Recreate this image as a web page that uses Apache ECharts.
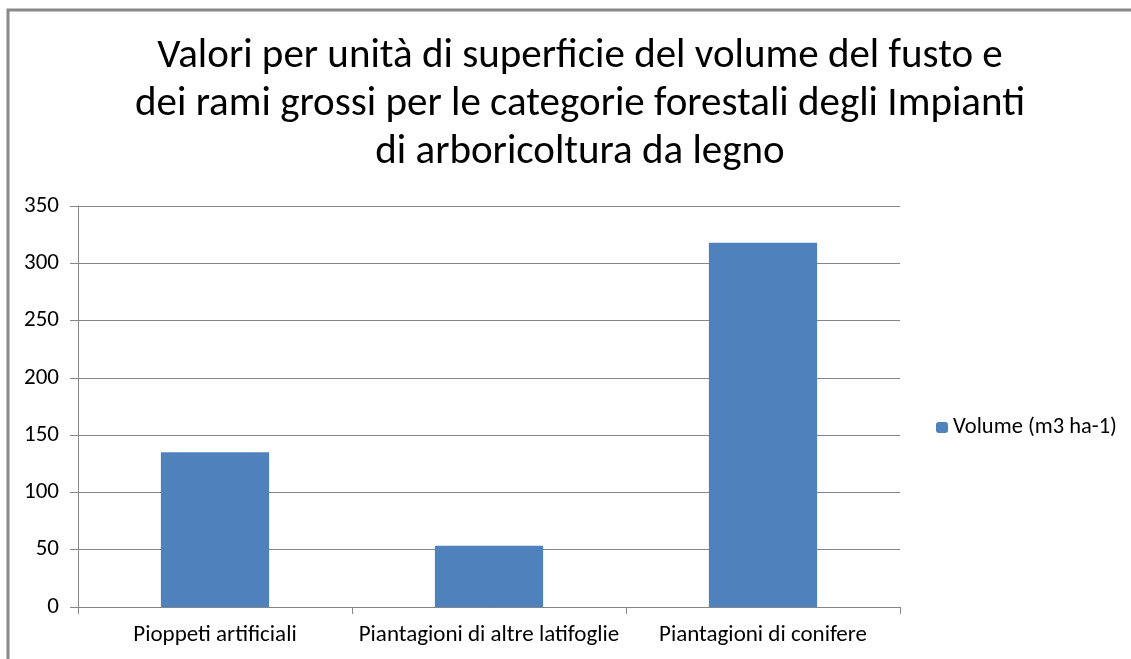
<!DOCTYPE html>
<html>
<head>
<meta charset="utf-8">
<title>Volume per categorie forestali</title>
<script src="https://cdn.jsdelivr.net/npm/echarts@6/dist/echarts.min.js"></script>
<style>
    html, body { margin: 0; padding: 0; background: #fff; }
    #chart { width: 1131px; height: 659px; }
</style>
</head>
<body>
<div id="chart"></div>
<script>
    // dati
    var categories = ['Pioppeti artificiali', 'Piantagioni di altre latifoglie', 'Piantagioni di conifere']
    var volume = [135, 53.5, 318]
    var seriesName = 'Volume (m3 ha-1)'
    var titleLines = [
        'Valori per unità di superficie del volume del fusto e',
        'dei rami grossi per le categorie forestali degli Impianti',
        'di arboricoltura da legno'
    ]

    var font = "Carlito, 'Liberation Sans Narrow', 'Liberation Sans', sans-serif"
    var dom = echarts.init(document.getElementById('chart'))
    var option = {
        animation: false,
        color: ['#4F81BD'],
        textStyle: { fontFamily: font },
        graphic: [{
            type: 'rect',
            shape: { x: 8, y: 10, width: 1300, height: 800 },
            style: { fill: null, stroke: '#898989', lineWidth: 3 },
            silent: true
        }],
        title: {
            text: titleLines.join('\n'),
            left: 575,
            textAlign: 'center',
            top: 28,
            textStyle: {
                fontFamily: font,
                fontSize: 41,
                fontWeight: 'normal',
                lineHeight: 48,
                color: '#000'
            }
        },
        legend: {
            data: [seriesName],
            orient: 'vertical',
            left: 931,
            top: 411,
            itemWidth: 12,
            itemHeight: 11,
            itemGap: 8,
            textStyle: { fontFamily: font, fontSize: 22.5, color: '#000' }
        },
        grid: {
            left: 78,
            right: 231,
            top: 206,
            bottom: 52
        },
        xAxis: {
            type: 'category',
            data: categories,
            axisLine: { lineStyle: { color: '#868686', width: 1 } },
            axisTick: { show: true, length: 7, lineStyle: { color: '#868686' } },
            axisLabel: { fontFamily: font, fontSize: 23, color: '#000', margin: 17, interval: 0 },
            splitLine: { show: false }
        },
        yAxis: {
            type: 'value',
            min: 0,
            max: 350,
            interval: 50,
            axisLine: { show: true, lineStyle: { color: '#868686', width: 1 } },
            axisTick: { show: true, length: 8, lineStyle: { color: '#868686' } },
            axisLabel: { fontFamily: font, fontSize: 23, color: '#000', margin: 19 },
            splitLine: { show: true, lineStyle: { color: '#868686', width: 1 } }
        },
        series: [{
            name: seriesName,
            type: 'bar',
            data: volume,
            barWidth: '39.5%',
            itemStyle: { color: '#4F81BD' }
        }]
    }
    dom.setOption(option)
    window.addEventListener('resize', function () { dom.resize() })
</script>
</body>
</html>
